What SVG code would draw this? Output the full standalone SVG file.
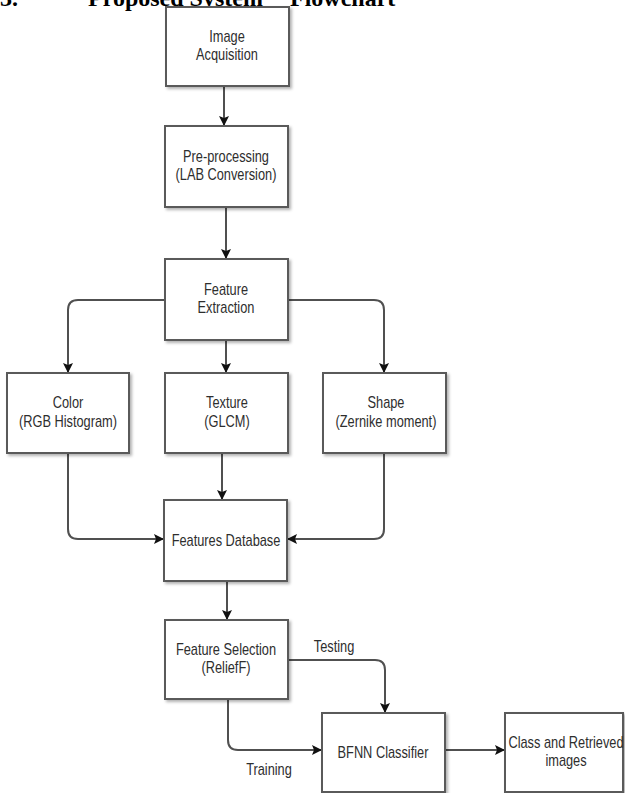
<svg xmlns="http://www.w3.org/2000/svg" width="625" height="793" viewBox="0 0 625 793">
<style>
.box{fill:#ffffff;stroke:#5a5a5a;stroke-width:2;filter:url(#sh)}
.t{font-family:"Liberation Sans",Arial,sans-serif;font-size:16px;fill:#2e2e2e;text-anchor:middle;transform-box:fill-box;transform-origin:center;transform:scaleX(0.8)}
.c{fill:none;stroke:#505050;stroke-width:2;marker-end:url(#ah)}
.title{font-family:"Liberation Serif","Times New Roman",serif;font-weight:bold;font-size:24px;fill:#000}
</style>
<defs>
<filter id="sh" x="-10%" y="-10%" width="125%" height="125%">
<feDropShadow dx="2" dy="2" stdDeviation="1.5" flood-color="#000" flood-opacity="0.3"/>
</filter>
<marker id="ah" viewBox="0 0 10 10" refX="10" refY="5" markerWidth="5" markerHeight="5" orient="auto" markerUnits="strokeWidth">
<path d="M0,0 L10,5 L0,10 L2,5 Z" fill="#111"/>
</marker>
</defs>
<text class="title" x="0" y="6">3.<tspan x="88">Proposed System</tspan><tspan x="290">Flowchart</tspan></text>
<g id="connectors">
<path class="c" d="M224,86 V126"/>
<path class="c" d="M226,207 V259"/>
<path class="c" d="M165,300 H78 Q68,300 68,310 V373"/>
<path class="c" d="M226,340 V373"/>
<path class="c" d="M288,300 H374 Q384,300 384,310 V373"/>
<path class="c" d="M68,453 V529 Q68,539 78,539 H164"/>
<path class="c" d="M222,453 V500"/>
<path class="c" d="M384,453 V529 Q384,539 374,539 H287"/>
<path class="c" d="M227,581 V620"/>
<path class="c" d="M288,660 H375 Q385,660 385,670 V713"/>
<path class="c" d="M228,699 V740 Q228,750 238,750 H322"/>
<path class="c" d="M445,750 H505"/>
<text class="t" x="334" y="652">Testing</text>
<text class="t" x="269" y="775">Training</text>
</g>
<g id="image-acquisition"><rect class="box" x="166" y="7" width="123" height="79"/><text class="t" x="227" y="42">Image</text><text class="t" x="227" y="60">Acquisition</text></g>
<g id="pre-processing"><rect class="box" x="165" y="126" width="123" height="81"/><text class="t" x="226" y="162">Pre-processing</text><text class="t" x="226" y="180">(LAB Conversion)</text></g>
<g id="feature-extraction"><rect class="box" x="165" y="259" width="123" height="81"/><text class="t" x="226" y="295">Feature</text><text class="t" x="226" y="313">Extraction</text></g>
<g id="color"><rect class="box" x="7" y="373" width="122" height="80"/><text class="t" x="68" y="408">Color</text><text class="t" x="68" y="427">(RGB Histogram)</text></g>
<g id="texture"><rect class="box" x="165" y="373" width="123" height="80"/><text class="t" x="227" y="408">Texture</text><text class="t" x="227" y="427">(GLCM)</text></g>
<g id="shape"><rect class="box" x="323" y="373" width="123" height="80"/><text class="t" x="386" y="408">Shape</text><text class="t" x="386" y="427">(Zernike moment)</text></g>
<g id="features-database"><rect class="box" x="164" y="500" width="123" height="81"/><text class="t" x="226" y="546">Features Database</text></g>
<g id="feature-selection"><rect class="box" x="165" y="620" width="123" height="79"/><text class="t" x="226" y="655">Feature Selection</text><text class="t" x="226" y="673">(ReliefF)</text></g>
<g id="bfnn-classifier"><rect class="box" x="322" y="713" width="123" height="79"/><text class="t" x="383" y="758">BFNN Classifier</text></g>
<g id="class-retrieved"><rect class="box" x="505" y="713" width="118" height="79"/><text class="t" x="566" y="748">Class and Retrieved</text><text class="t" x="566" y="766">images</text></g>
</svg>
